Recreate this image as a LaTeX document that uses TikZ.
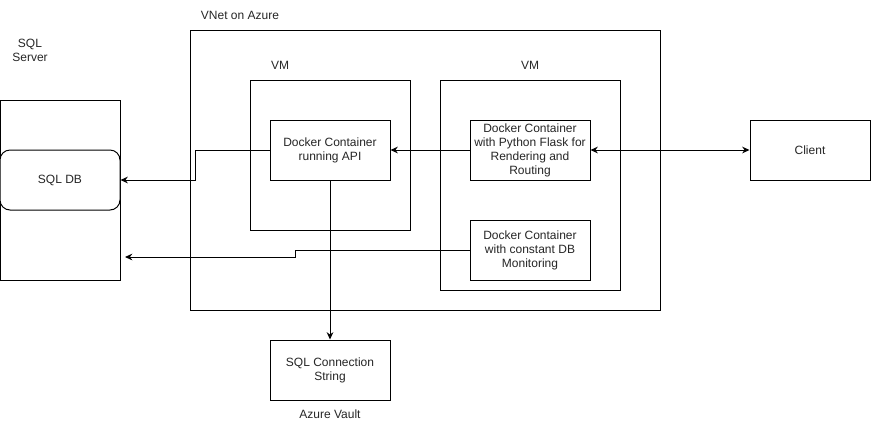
\documentclass[tikz,border=0pt]{standalone}
\usepackage{fontspec}
\setmainfont{Liberation Sans}
\usetikzlibrary{arrows.meta}
\begin{document}
\begin{tikzpicture}[x=0.75pt,y=-0.75pt,
  every node/.style={font=\fontsize{9pt}{10.5pt}\selectfont, text=black!85, align=center, inner sep=0pt},
  box/.style={draw=black, line width=0.75pt, fill=white},
  lbl/.style={},
  conn/.style={draw=black, line width=0.75pt, -{Stealth[length=5.5pt,width=5pt,inset=1.8pt]}},
  biconn/.style={draw=black, line width=0.75pt, {Stealth[length=5.5pt,width=5pt,inset=1.8pt]}-{Stealth[length=5.5pt,width=5pt,inset=1.8pt]}}]
\useasboundingbox (0,0) rectangle (871,430);
% containers
\node[box, minimum width=90pt, minimum height=135pt] (sqlsrv) at (60,190) {};
\node[box, rounded corners=7.5pt, minimum width=90pt, minimum height=45pt] (sqldb) at (60,180) {SQL DB};
\node[box, minimum width=352.5pt, minimum height=210pt] (vnet) at (425,170) {};
\node[box, minimum width=120pt, minimum height=112.5pt] (vm1) at (330,155) {};
\node[box, minimum width=135pt, minimum height=157.5pt] (vm2) at (530,185) {};
% boxes
\node[box, minimum width=90pt, minimum height=45pt] (api) at (330,150) {Docker Container\\running API};
\node[box, minimum width=90pt, minimum height=45pt] (flask) at (530,150) {Docker Container\\with Python Flask for\\Rendering and\\Routing};
\node[box, minimum width=90pt, minimum height=45pt] (mon) at (530,250) {Docker Container\\with constant DB\\Monitoring};
\node[box, minimum width=90pt, minimum height=45pt] (client) at (810,150) {Client};
\node[box, minimum width=90pt, minimum height=45pt] (vault) at (330,370) {SQL Connection\\String};
% labels
\node[lbl] (sqlsrvlbl) at (30,50) {SQL\\Server};
\node[lbl] (vnetlbl) at (240,15) {VNet on Azure};
\node[lbl] (vm1lbl) at (280,65) {VM};
\node[lbl] (vm2lbl) at (530,65) {VM};
\node[lbl] (vaultlbl) at (330,414) {Azure Vault};
% connectors
\coordinate (monend) at (125,257);
\draw[conn] (flask.west) -- (api.east);
\draw[biconn] (flask.east) -- (client.west);
\draw[conn] (api.west) -- (195,150) -- (195,180) -- (sqldb.east);
\draw[conn] (mon.west) -- (295,250) -- (295,257) -- (monend);
\draw[conn] (api.south) -- (vault.north);
\end{tikzpicture}
\end{document}
